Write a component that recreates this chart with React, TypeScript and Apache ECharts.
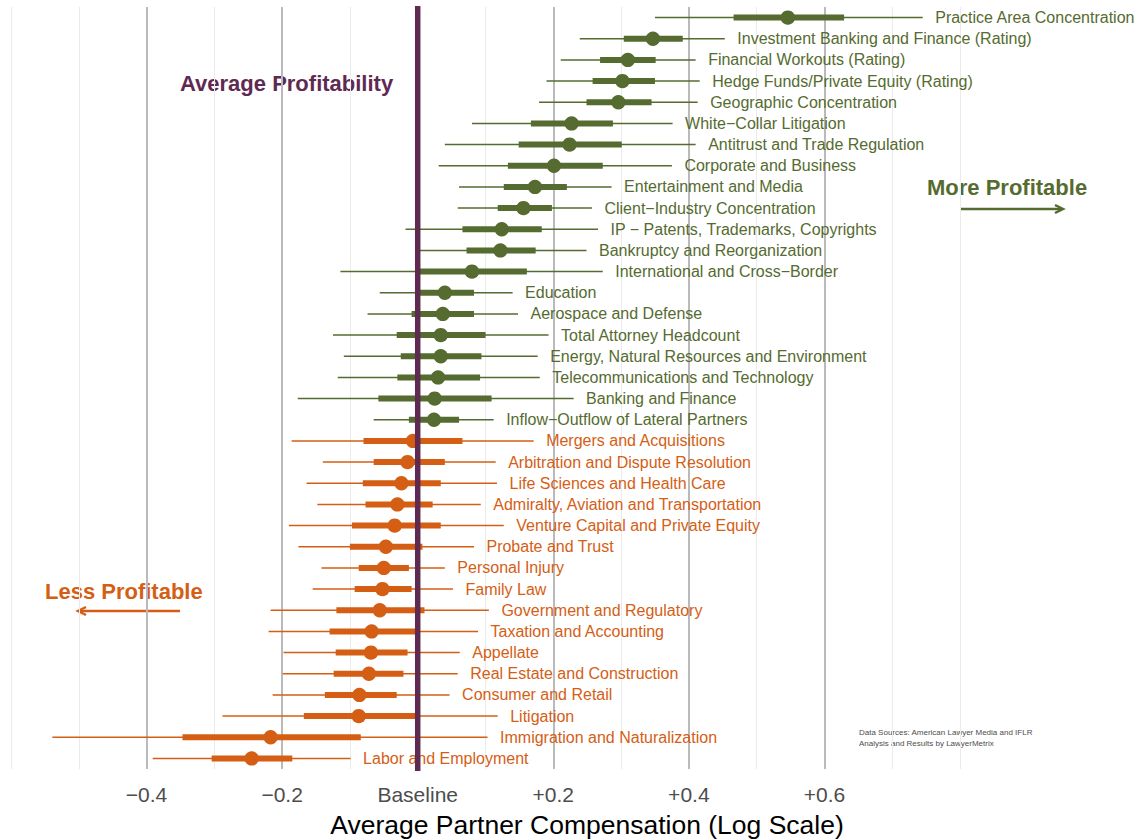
import React, { useEffect, useRef } from "react";
import * as echarts from "echarts";

const FONT = '"Liberation Sans", Arial, Helvetica, sans-serif';

const categories = [
  "Practice Area Concentration",
  "Investment Banking and Finance (Rating)",
  "Financial Workouts (Rating)",
  "Hedge Funds/Private Equity (Rating)",
  "Geographic Concentration",
  "White\u2212Collar Litigation",
  "Antitrust and Trade Regulation",
  "Corporate and Business",
  "Entertainment and Media",
  "Client\u2212Industry Concentration",
  "IP \u2212 Patents, Trademarks, Copyrights",
  "Bankruptcy and Reorganization",
  "International and Cross\u2212Border",
  "Education",
  "Aerospace and Defense",
  "Total Attorney Headcount",
  "Energy, Natural Resources and Environment",
  "Telecommunications and Technology",
  "Banking and Finance",
  "Inflow\u2212Outflow of Lateral Partners",
  "Mergers and Acquisitions",
  "Arbitration and Dispute Resolution",
  "Life Sciences and Health Care",
  "Admiralty, Aviation and Transportation",
  "Venture Capital and Private Equity",
  "Probate and Trust",
  "Personal Injury",
  "Family Law",
  "Government and Regulatory",
  "Taxation and Accounting",
  "Appellate",
  "Real Estate and Construction",
  "Consumer and Retail",
  "Litigation",
  "Immigration and Naturalization",
  "Labor and Employment",
];

// "more" = above-average (green), "less" = below-average (orange)
const groups = [
  "more", "more", "more", "more", "more", "more", "more", "more", "more", "more",
  "more", "more", "more", "more", "more", "more", "more", "more", "more", "more",
  "less", "less", "less", "less", "less", "less", "less", "less", "less", "less",
  "less", "less", "less", "less", "less", "less",
];

const estimates = [
  0.546, 0.347, 0.310, 0.302, 0.296, 0.227, 0.224, 0.201, 0.173, 0.156,
  0.124, 0.122, 0.080, 0.040, 0.037, 0.034, 0.034, 0.030, 0.025, 0.024,
  -0.007, -0.015, -0.024, -0.030, -0.034, -0.047, -0.050, -0.052, -0.056, -0.068,
  -0.069, -0.072, -0.086, -0.087, -0.217, -0.245,
];

const inner50Low = [
  0.466, 0.304, 0.269, 0.258, 0.249, 0.167, 0.149, 0.133, 0.127, 0.118,
  0.066, 0.072, 0.000, 0.001, -0.009, -0.031, -0.025, -0.030, -0.058, -0.013,
  -0.080, -0.065, -0.081, -0.077, -0.097, -0.100, -0.087, -0.093, -0.120, -0.130,
  -0.121, -0.124, -0.137, -0.168, -0.347, -0.304,
];

const inner50High = [
  0.629, 0.391, 0.351, 0.350, 0.345, 0.288, 0.301, 0.273, 0.220, 0.198,
  0.183, 0.174, 0.161, 0.083, 0.083, 0.100, 0.094, 0.092, 0.109, 0.061,
  0.066, 0.040, 0.034, 0.022, 0.034, 0.007, -0.013, -0.009, 0.010, -0.003,
  -0.015, -0.021, -0.031, -0.003, -0.084, -0.185,
];

const outer95Low = [
  0.350, 0.239, 0.211, 0.190, 0.179, 0.080, 0.040, 0.031, 0.061, 0.059,
  -0.018, -0.001, -0.114, -0.056, -0.074, -0.125, -0.109, -0.118, -0.177, -0.065,
  -0.186, -0.140, -0.164, -0.148, -0.190, -0.176, -0.142, -0.155, -0.217, -0.220,
  -0.198, -0.199, -0.214, -0.288, -0.539, -0.391,
];

const outer95High = [
  0.745, 0.453, 0.410, 0.416, 0.413, 0.376, 0.410, 0.375, 0.286, 0.257,
  0.266, 0.249, 0.273, 0.140, 0.148, 0.193, 0.177, 0.180, 0.230, 0.112,
  0.171, 0.115, 0.117, 0.093, 0.127, 0.083, 0.040, 0.052, 0.105, 0.089,
  0.062, 0.059, 0.047, 0.118, 0.103, -0.099,
];

const xMin = -0.6;
const xMax = 0.8;

const GREEN = "#556B2F";
const ORANGE = "#D55E15";
const PURPLE = "#5F2A52";

function tickLabel(v: number): string {
  const r = Math.round(v * 10) / 10;
  if (r <= -0.6 || r >= 0.8) return "";
  if (r === 0) return "Baseline";
  return (r < 0 ? "\u2212" : "+") + Math.abs(r).toFixed(1);
}

function buildData(group: string) {
  const out: any[] = [];
  categories.forEach((name, i) => {
    if (groups[i] !== group) return;
    out.push({
      name,
      value: [estimates[i], i, outer95Low[i], inner50Low[i], inner50High[i], outer95High[i]],
    });
  });
  return out;
}

function makeRender(color: string) {
  return (params: any, api: any) => {
    const yi = api.value(1);
    const pt = api.coord([api.value(0), yi]);
    const l95 = api.coord([api.value(2), yi]);
    const l50 = api.coord([api.value(3), yi]);
    const h50 = api.coord([api.value(4), yi]);
    const h95 = api.coord([api.value(5), yi]);
    return {
      type: "group",
      children: [
        {
          type: "line",
          shape: { x1: l95[0], y1: pt[1], x2: h95[0], y2: pt[1] },
          style: { stroke: color, lineWidth: 1.5 },
        },
        {
          type: "line",
          shape: { x1: l50[0], y1: pt[1], x2: h50[0], y2: pt[1] },
          style: { stroke: color, lineWidth: 6 },
        },
        {
          type: "circle",
          shape: { cx: pt[0], cy: pt[1], r: 7.2 },
          style: { fill: color },
        },
        {
          type: "text",
          x: h95[0] + 12.5,
          y: pt[1],
          style: {
            text: categories[yi],
            fill: color,
            fontSize: 16,
            fontFamily: FONT,
            align: "left",
            verticalAlign: "middle",
          },
        },
      ],
    };
  };
}

export default function App() {
  const ref = useRef<HTMLDivElement>(null);

  useEffect(() => {
    if (!ref.current) return;
    const chart = echarts.init(ref.current, undefined, { renderer: "svg" });
    const option: any = {
      animation: false,
      backgroundColor: "#ffffff",
      grid: { left: 11, right: 178, top: 7, height: 762, containLabel: false },
      xAxis: [
        {
          type: "value",
          min: xMin,
          max: xMax,
          interval: 0.1,
          position: "top",
          axisLine: { show: false },
          axisTick: { show: false },
          axisLabel: { show: false },
          splitLine: { show: true, lineStyle: { color: "#ebebeb", width: 1 } },
        },
        {
          type: "value",
          min: xMin,
          max: xMax,
          interval: 0.2,
          position: "bottom",
          axisLine: { show: false },
          axisTick: { show: false },
          axisLabel: {
            show: true,
            formatter: tickLabel,
            fontSize: 21,
            fontFamily: FONT,
            color: "#4d4d4d",
            margin: 15,
            showMinLabel: false,
            showMaxLabel: false,
          },
          splitLine: {
            show: true,
            showMinLine: false,
            showMaxLine: false,
            lineStyle: { color: "#bababa", width: 2 },
          },
        },
      ],
      yAxis: {
        type: "category",
        data: categories,
        inverse: true,
        boundaryGap: true,
        axisLine: { show: false },
        axisTick: { show: false },
        axisLabel: { show: false },
        splitLine: { show: false },
      },
      series: [
        {
          type: "custom",
          name: "More Profitable",
          xAxisIndex: 0,
          encode: { x: [0, 2, 3, 4, 5], y: 1 },
          data: buildData("more"),
          renderItem: makeRender(GREEN),
          clip: false,
          z: 3,
        },
        {
          type: "custom",
          name: "Less Profitable",
          xAxisIndex: 0,
          encode: { x: [0, 2, 3, 4, 5], y: 1 },
          data: buildData("less"),
          renderItem: makeRender(ORANGE),
          clip: false,
          z: 3,
        },
        {
          type: "custom",
          name: "Baseline",
          xAxisIndex: 0,
          encode: { x: 0, y: 1 },
          data: [[0, 0]],
          z: 10,
          clip: false,
          renderItem: (params: any, api: any) => {
            const p = api.coord([api.value(0), 0]);
            const cs = params.coordSys;
            return {
              type: "line",
              shape: { x1: p[0], y1: cs.y - 1, x2: p[0], y2: cs.y + cs.height + 2 },
              style: { stroke: PURPLE, lineWidth: 5.5 },
            };
          },
        },
      ],
      graphic: [
        {
          type: "text",
          x: 180,
          y: 83,
          style: {
            text: "Average Profitability",
            fill: PURPLE,
            fontSize: 22,
            fontWeight: "bold",
            fontFamily: FONT,
            align: "left",
            verticalAlign: "middle",
          },
        },
        {
          type: "text",
          x: 927,
          y: 187,
          style: {
            text: "More Profitable",
            fill: GREEN,
            fontSize: 22,
            fontWeight: "bold",
            fontFamily: FONT,
            align: "left",
            verticalAlign: "middle",
          },
        },
        {
          type: "line",
          shape: { x1: 960, y1: 209, x2: 1062, y2: 209 },
          style: { stroke: GREEN, lineWidth: 2.5 },
        },
        {
          type: "polyline",
          shape: { points: [[1055, 205], [1063, 209], [1055, 213]] },
          style: { stroke: GREEN, lineWidth: 2.5, fill: null },
        },
        {
          type: "text",
          x: 45,
          y: 591,
          style: {
            text: "Less Profitable",
            fill: ORANGE,
            fontSize: 22,
            fontWeight: "bold",
            fontFamily: FONT,
            align: "left",
            verticalAlign: "middle",
          },
        },
        {
          type: "line",
          shape: { x1: 79, y1: 611, x2: 180, y2: 611 },
          style: { stroke: ORANGE, lineWidth: 2.5 },
        },
        {
          type: "polyline",
          shape: { points: [[86, 607], [78, 611], [86, 615]] },
          style: { stroke: ORANGE, lineWidth: 2.5, fill: null },
        },
        {
          type: "text",
          x: 859,
          y: 732,
          style: {
            text: "Data Sources: American Lawyer Media and IFLR",
            fill: "#4d4d4d",
            fontSize: 8,
            fontFamily: FONT,
            align: "left",
            verticalAlign: "middle",
          },
        },
        {
          type: "text",
          x: 859,
          y: 743,
          style: {
            text: "Analysis and Results by LawyerMetrix",
            fill: "#4d4d4d",
            fontSize: 8,
            fontFamily: FONT,
            align: "left",
            verticalAlign: "middle",
          },
        },
        {
          type: "text",
          x: 587,
          y: 825,
          style: {
            text: "Average Partner Compensation (Log Scale)",
            fill: "#000000",
            fontSize: 26.5,
            fontFamily: FONT,
            align: "center",
            verticalAlign: "middle",
          },
        },
      ],
    };
    chart.setOption(option);
    return () => {
      chart.dispose();
    };
  }, []);

  return (
    <div
      ref={ref}
      style={{ position: "absolute", left: 0, top: 0, width: 1138, height: 840 }}
    />
  );
}
